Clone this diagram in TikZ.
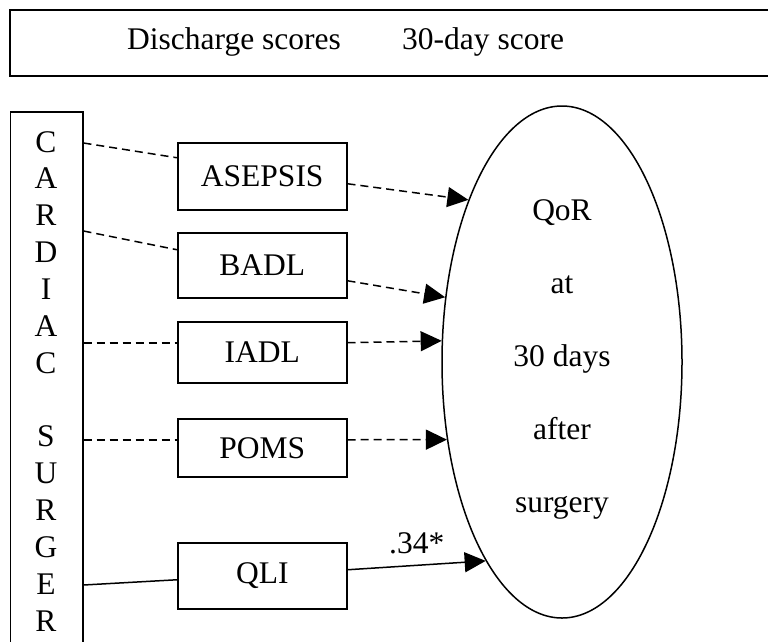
\documentclass[tikz,border=0pt]{standalone}
\usepackage{fontspec}
\setmainfont{Liberation Serif}
\usetikzlibrary{arrows.meta,shapes.geometric,calc}

\begin{document}
\begin{tikzpicture}[x=1pt,y=-1pt,
  lbl/.style={font=\fontsize{31.5}{36}\selectfont, inner sep=0pt},
  measure/.style={draw, line width=1.5pt, minimum width=169pt, inner sep=0pt,
    anchor=north west, font=\fontsize{31.5}{36}\selectfont},
  link/.style={line width=1.5pt},
  dashlink/.style={link, dash pattern=on 8pt off 5pt},
  tip/.style={-{Triangle[length=21pt,width=20pt]}}
]
\useasboundingbox (0,0) rectangle (768,641);

% header band
\node[draw, line width=2.2pt, minimum width=780pt, minimum height=66pt,
      anchor=north west, inner sep=0pt] (header) at (9,9) {};
\node[lbl, anchor=base west] (hdis) at (127,49) {Discharge scores};
\node[lbl, anchor=base west] (hday) at (402,49) {30-day score};

% predictor column
\node[draw, line width=1.5pt, minimum width=72.5pt, minimum height=560pt,
      anchor=north west, inner sep=0pt] (cardiac) at (9.5,111) {};
\foreach \ch [count=\i from 0] in {C,A,R,D,I,A,C,{},S,U,R,G,E,R}
  \node[lbl, anchor=base] (let\i) at (46,152+36.85*\i) {\ch};

% discharge measures
\node[measure, minimum height=67pt] (asepsis) at (177,142) {ASEPSIS};
\node[measure, minimum height=65pt] (badl)    at (177,232) {BADL};
\node[measure, minimum height=61pt] (iadl)    at (177,321) {IADL};
\node[measure, minimum height=58pt] (poms)    at (177,418) {POMS};
\node[measure, minimum height=66pt] (qli)     at (177,542) {QLI};

% outcome
\node[draw, ellipse, line width=1.5pt, minimum width=240pt, minimum height=512pt,
      inner sep=0pt] (qor) at (562,362) {};
\node[lbl, anchor=base] (q1) at (562,220) {QoR};
\node[lbl, anchor=base] (q2) at (562,293) {at};
\node[lbl, anchor=base] (q3) at (562,366) {30 days};
\node[lbl, anchor=base] (q4) at (562,439) {after};
\node[lbl, anchor=base] (q5) at (562,512) {surgery};

% paths: ASEPSIS
\draw[dashlink] ($(cardiac.north east)+(0,32)$) -- ($(asepsis.west)+(0,-18.5)$);
\draw[dashlink,tip] ($(asepsis.east)+(0,7.5)$) -- (qor.120.9);
% BADL
\draw[dashlink] ($(cardiac.north east)+(0,120)$) -- ($(badl.west)+(0,-15.5)$);
\draw[dashlink,tip] ($(badl.east)+(0,15.5)$) -- (qor.151);
% IADL
\coordinate (i1) at ($(iadl.west)+(0,-9.5)$);
\draw[dashlink] (cardiac.east |- i1) -- (i1);
\draw[dashlink,tip] ($(iadl.east)+(0,-9.5)$) -- (qor.170.5);
% POMS
\coordinate (p1) at ($(poms.west)+(0,-8)$);
\draw[dashlink] (cardiac.east |- p1) -- (p1);
\draw[dashlink,tip] ($(poms.east)+(0,-8)$) -- (qor.214.4);
% QLI
\draw[link] ($(cardiac.north east)+(0,474)$) -- ($(qli.west)+(0,4)$);
\draw[link,tip] ($(qli.east)+(0,-6)$) -- (qor.249.3);
\node[lbl, anchor=base west] (coef) at (389,553) {.34*};
\end{tikzpicture}
\end{document}
